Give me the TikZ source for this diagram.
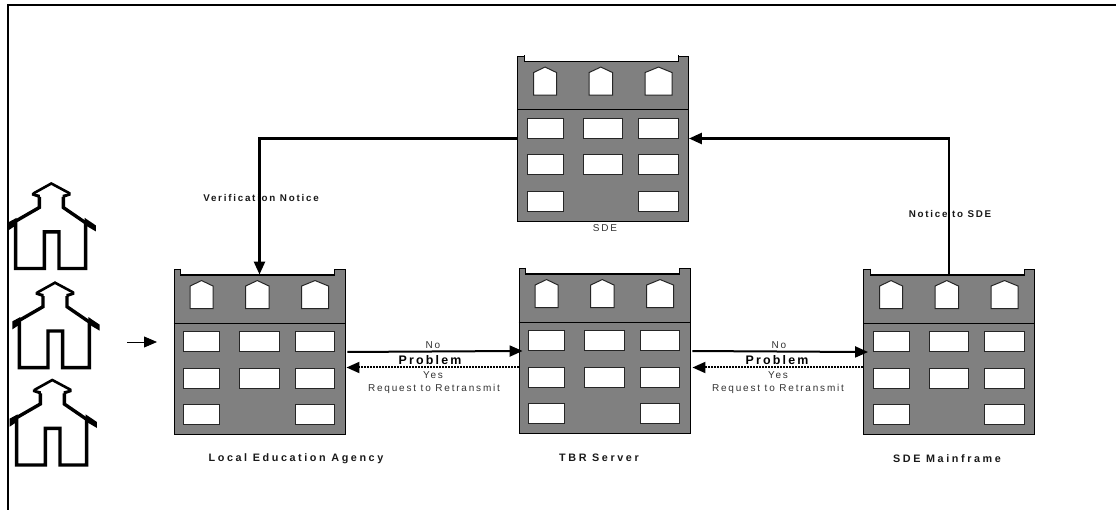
\documentclass[tikz,border=0pt]{standalone}
\usepackage{fontspec}
\usepackage{tikz}
\usetikzlibrary{arrows.meta,calc}
\newfontfamily\diagfont[LetterSpace=18]{Liberation Sans}
\newfontfamily\namefont[LetterSpace=24]{Liberation Sans}
\definecolor{bldgray}{gray}{.5}
\tikzset{
	building/.style={draw=black,line width=.9pt,fill=bldgray,minimum width=171pt,minimum height=165pt,inner sep=0pt},
	bldwin/.style={draw=black!85,fill=white,line width=1pt},
	flow/.style={line width=2.6pt,-{Triangle[length=13pt,width=11pt]}},
	flowthin/.style={line width=2pt,-{Triangle[length=13pt,width=11pt]}},
	retry/.style={line width=2pt,dash pattern=on 2pt off 1pt,-{Triangle[length=13pt,width=11pt]}},
	caption/.style={font=\diagfont\fontsize{10}{11}\selectfont,text=black!80,inner sep=0pt},
	captionb/.style={font=\diagfont\bfseries\fontsize{9.8}{11}\selectfont,text=black!90,inner sep=0pt},
	namecap/.style={font=\namefont\bfseries\fontsize{10.8}{12}\selectfont,text=black!90,inner sep=0pt},
	bigcap/.style={font=\diagfont\bfseries\fontsize{12.4}{14}\selectfont,inner sep=0pt},
	pics/school/.style={code={
		\begin{scope}[scale=1/3,line join=miter]
			\draw[line width=3.4pt] (-36,40) -- (-36,72) -- (-107,113) -- (-107,255) -- (-21,255) -- (-21,145) -- (23,145) -- (23,255) -- (103,255) -- (103,118) -- (36,72) -- (36,40);
			\draw[line width=2.6pt] (-54,30) -- (0,0) -- (56,30);
			\fill (-58,28) -- (-58,36) -- (-34,44) -- (-34,34) -- cycle;
			\fill (58,28) -- (58,36) -- (34,44) -- (34,34) -- cycle;
			\fill (-128,116) -- (-128,140) -- (-104,124) -- (-104,103) -- cycle;
			\fill (134,126) -- (134,144) -- (100,124) -- (100,103) -- cycle;
		\end{scope}
	}},
}
% one block: gray body, notch in the roof, the windows
\newcommand{\bldblock}[3]{
	\node[building] (#1) at (#2,#3) {};
	\begin{scope}[shift={(#1.north west)}]
		\fill[white] (7,-1) rectangle (161,6);
		\draw[line width=1.1pt] (7,-.5) -- (7,6) -- (161,6) -- (161,-.5);
		\draw[line width=1pt] (0,54) -- (171,54);
		\foreach \x/\w in {16.5/23,72/23.5,128/27} {
			\draw[bldwin] (\x,39.5) -- (\x,17) -- (\x+\w/2,11.5) -- (\x+\w,17) -- (\x+\w,39.5) -- cycle;
		}
		\foreach \x/\w/\y in {10/36/62.5,66/39.5/62.5,121.5/39.5/62.5,10/36/99,66/39.5/99,121.5/39.5/99,10/36/135.5,121.5/39.5/135.5} {
			\draw[bldwin] (\x,\y) rectangle (\x+\w,\y+20);
		}
	\end{scope}
}

\begin{document}
\begin{tikzpicture}[x=1pt,y=-1pt]
	\useasboundingbox (0,0) rectangle (1116,510);

	% outer frame
	\coordinate (frameBL) at (7.5,510);
	\coordinate (frameTL) at (7.5,5);
	\coordinate (frameTR) at (1116,5);
	\draw[line width=2pt] (frameBL) -- (frameTL) -- (frameTR);

	% schools
	\pic (schoolA) at (51.3,183.5) {school};
	\pic (schoolB) at (55,282.7) {school};
	\pic (schoolC) at (52.3,380) {school};
	\coordinate (inFrom) at (127,342);
	\coordinate (inTo) at (157,342);
	\draw[line width=.8pt,-{Triangle[length=13pt,width=11pt]}] (inFrom) -- (inTo);

	\bldblock{sde}{603}{138.5}
	\bldblock{lea}{259.5}{352}
	\bldblock{tbr}{604.5}{351}
	\bldblock{main}{949}{352}

	\node[caption] (sdeName) at (605,228) {SDE};
	\node[namecap] (leaName) at (296,459) {Local Education Agency};
	\node[namecap] (tbrName) at (599,458) {TBR Server};
	\node[namecap] (mainName) at (947,459) {SDE Mainframe};
	\node[captionb] (verifyLabel) at (261,198) {Verification Notice};
	\node[captionb] (noticeLabel) at (950,214) {Notice to SDE};

	\node[caption] (noA) at (433,345) {No};
	\node[bigcap] (probA) at (430,360.5) {Problem};
	\node[caption] (yesA) at (433,375) {Yes};
	\node[caption] (reqA) at (434,389) {Request to Retransmit};
	\node[caption] (noB) at (779,345) {No};
	\node[bigcap] (probB) at (777,360.5) {Problem};
	\node[caption] (yesB) at (778,375) {Yes};
	\node[caption] (reqB) at (778,389) {Request to Retransmit};

	% connectors
	\draw[flow,shorten >=-5.5pt] (sde.west) -| (lea.north);
	\draw[flow,shorten <=-6pt] (main.north) |- (sde.east);
	\draw[flowthin,shorten <=2pt,shorten >=-4pt] (lea.east) -- (tbr.west);
	\draw[flowthin,shorten <=2pt,shorten >=-5pt] (tbr.east) -- (main.west);
	\draw[retry,shorten >=1pt] ($(tbr.west)+(0,16.5)$) -- ($(lea.east)+(0,15.5)$);
	\draw[retry,shorten >=2pt] ($(main.west)+(0,15.5)$) -- ($(tbr.east)+(0,16.5)$);
\end{tikzpicture}
\end{document}
